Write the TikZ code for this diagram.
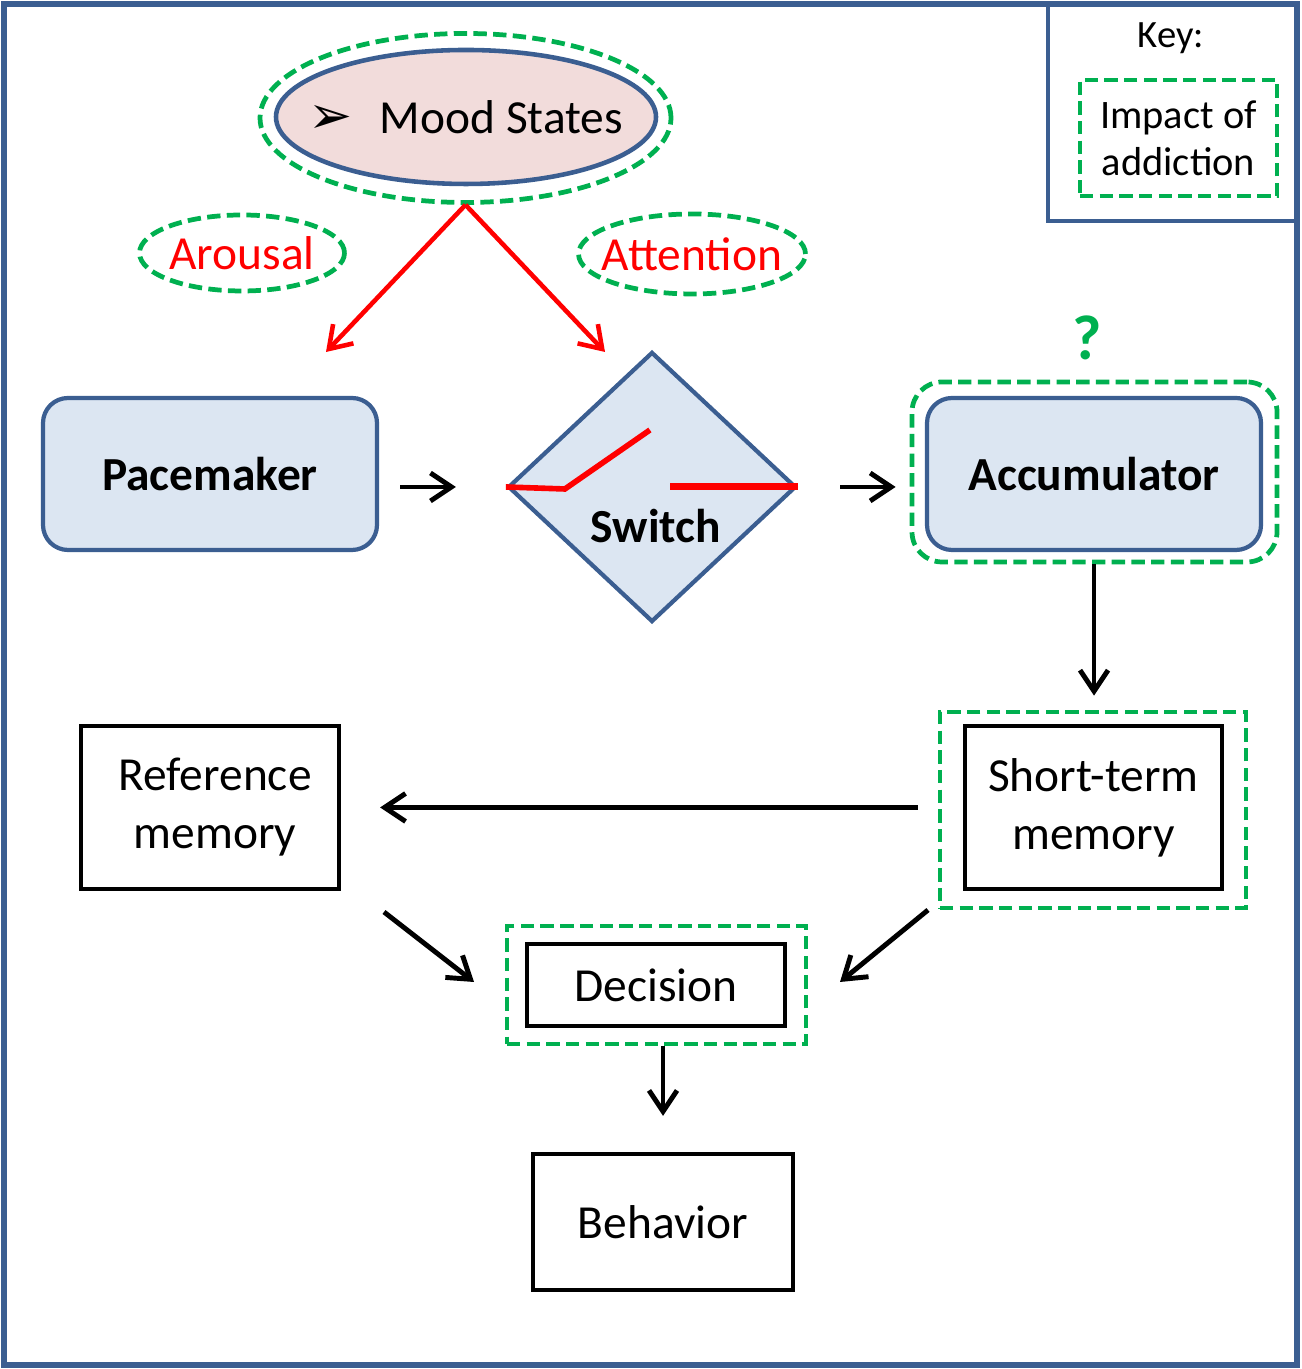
\documentclass[tikz,border=0pt]{standalone}
\usepackage{fontspec}
\setmainfont{Carlito}
\newfontfamily\symfont{DejaVu Sans}
\usetikzlibrary{shapes.geometric,arrows.meta,positioning,calc}
\definecolor{framecolor}{HTML}{3B5E91}
\definecolor{nodeblue}{HTML}{DCE6F2}
\definecolor{moodpink}{HTML}{F2DCDB}
\definecolor{addictgreen}{HTML}{00B050}
\newcommand{\txtsize}{\fontsize{13.5}{16.5}\selectfont}

\begin{document}
\begin{tikzpicture}[font=\txtsize,
  impact/.style={draw=addictgreen, line width=1.35pt, dash pattern=on 3.8pt off 1.8pt, inner sep=0pt},
  bluebox/.style={draw=framecolor, fill=nodeblue, line width=1.2pt, rounded corners=0.25cm,
                  minimum width=3.34cm, minimum height=1.52cm, font=\txtsize\bfseries},
  memobox/.style={draw, line width=1.2pt, align=center, inner sep=0pt},
  flow/.style={-{Straight Barb[length=2.1mm,width=2.8mm]}, line width=1.4pt},
  moodarrow/.style={-{Straight Barb[length=2.1mm,width=2.8mm]}, red, line width=1.3pt}]
  \useasboundingbox (0,0) rectangle (13.01,13.69);
  % Frame and key
  \draw[framecolor, line width=1.5pt] (0.04,0.04) rectangle (12.97,13.65);
  \draw[framecolor, line width=1.4pt] (10.48,11.48) rectangle (12.97,13.65);
  \node[font=\fontsize{11}{13}\selectfont] (key) at (11.71,13.31) {Key:};
  \node[impact, minimum width=1.97cm, minimum height=1.16cm, align=center,
        font=\fontsize{11.5}{13.4}\selectfont] (keybox) at (11.785,12.31) {Impact of\\addiction};
  % Mood states
  \node[impact, ellipse, minimum width=4.11cm, minimum height=1.69cm] (moodout) at (4.655,12.51) {};
  \node[ellipse, draw=framecolor, fill=moodpink, line width=1.3pt, inner sep=0pt,
        minimum width=3.80cm, minimum height=1.34cm,
        label=center:{{\symfont\fontsize{15}{17}\selectfont ➢}\hspace{0.27cm}Mood States}] (mood) at (4.66,12.52) {};
  \node[impact, ellipse, minimum width=2.05cm, minimum height=0.76cm,
        label={[text=red]center:Arousal}] (arousal) at (2.42,11.16) {};
  \node[impact, ellipse, minimum width=2.27cm, minimum height=0.80cm,
        label={[text=red]center:Attention}] (attention) at (6.92,11.15) {};
  \coordinate (toarousal) at (3.26,10.17);
  \coordinate (toattention) at (6.05,10.17);
  \draw[moodarrow] (moodout.south) -- (toarousal);
  \draw[moodarrow] (moodout.south) -- (toattention);
  % Pacemaker, switch, accumulator
  \node[bluebox] (pace) at (2.10,8.95) {Pacemaker};
  \node[diamond, draw=framecolor, fill=nodeblue, line width=1.2pt, inner sep=0pt,
        minimum width=2.88cm, minimum height=2.70cm] (switch) at (6.52,8.82) {};
  \node[font=\txtsize\bfseries] (switchtxt) at (6.56,8.43) {Switch};
  \draw[red, line width=1.6pt] (switch.west) -- ++(0.59,-0.02) -- ++(0.85,0.59);
  \draw[red, line width=2pt] ($(switch.east)+(-1.28,0)$) -- (switch.east);
  \node[impact, rounded corners=0.3cm, minimum width=3.65cm, minimum height=1.80cm] (accout) at (10.945,8.97) {};
  \node[bluebox] (acc) at (10.94,8.95) {Accumulator};
  \node[text=addictgreen, font=\fontsize{18}{20}\selectfont\bfseries] (query) at (10.87,10.31) {?};
  \draw[flow, shorten <=0.21cm, shorten >=0.50cm] (pace.east |- switch) -- (switch.west);
  \draw[flow, shorten <=0.42cm, shorten >=0.14cm] (switch.east) -- (accout.west |- switch);
  % Memories
  \node[impact, minimum width=3.06cm, minimum height=1.96cm] (stout) at (10.93,5.59) {};
  \node[memobox, minimum width=2.57cm, minimum height=1.63cm] (st) at (10.935,5.615) {Short-term\\memory};
  \node[memobox, minimum width=2.58cm, minimum height=1.63cm] (ref) at (2.10,5.615) {\hspace{0.1cm}Reference\\\hspace{0.1cm}memory};
  \draw[flow, shorten >=0.14cm] (accout.south -| acc) -- (stout.north -| acc);
  \draw[flow, shorten <=0.20cm, shorten >=0.39cm] (stout.west |- st) -- (ref.east);
  % Decision and behavior
  \node[impact, minimum width=2.99cm, minimum height=1.18cm] (decout) at (6.565,3.84) {};
  \node[memobox, minimum width=2.58cm, minimum height=0.82cm] (dec) at (6.56,3.84) {Decision};
  \node[memobox, minimum width=2.60cm, minimum height=1.36cm] (beh) at (6.63,1.47) {Behavior};
  \coordinate (refleave) at (3.84,4.57);
  \coordinate (decleft) at (4.74,3.87);
  \coordinate (stleave) at (9.28,4.59);
  \coordinate (decright) at (8.40,3.87);
  \draw[flow] (refleave) -- (decleft);
  \draw[flow] (stleave) -- (decright);
  \draw[flow, shorten >=0.36cm] (decout.south -| beh) -- (beh.north);
\end{tikzpicture}
\end{document}
